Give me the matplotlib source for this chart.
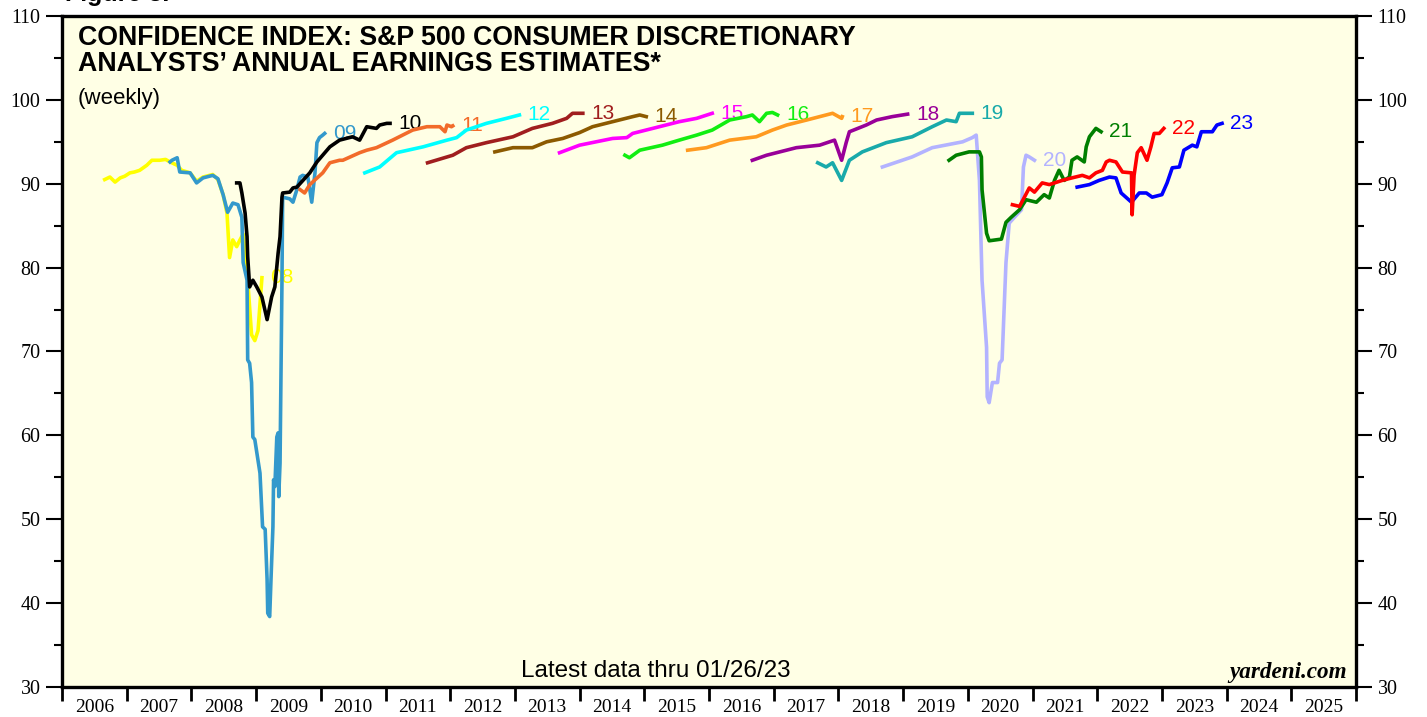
import numpy as np
import matplotlib
matplotlib.use("Agg")
import matplotlib.pyplot as plt
from matplotlib.ticker import MultipleLocator, FixedLocator, NullFormatter, FuncFormatter

# weekly confidence index by estimate year, x in decimal years
d08=[2006.66,2006.74,2006.82,2006.90,2006.97,2007.05,2007.12,2007.20,2007.31,2007.39,2007.51,2007.60,2007.67,2007.78,2007.85,2007.98,2008.08,2008.18,2008.33,2008.41,2008.49,2008.52,2008.55,2008.59,2008.64,2008.70,2008.75,2008.80,2008.87,2008.93,2008.98,2009.03,2009.09]
v08=[90.5,90.8,90.2,90.7,90.9,91.3,91.4,91.6,92.2,92.8,92.8,92.9,92.6,92.2,91.6,91.3,90.3,90.8,91.1,90.5,88.7,87.6,86.5,81.2,83.3,82.5,83.3,84.0,78.5,72.0,71.3,72.5,78.8]
d09=[2007.67,2007.70,2007.78,2007.82,2007.98,2008.08,2008.18,2008.33,2008.41,2008.49,2008.56,2008.64,2008.72,2008.78,2008.80,2008.86,2008.87,2008.90,2008.93,2008.95,2008.98,2009.06,2009.10,2009.14,2009.17,2009.18,2009.21,2009.23,2009.26,2009.27,2009.29,2009.32,2009.34,2009.35,2009.37,2009.40,2009.41,2009.52,2009.57,2009.63,2009.68,2009.72,2009.80,2009.86,2009.91,2009.94,2009.98,2010.03,2010.06]
v09=[92.6,92.8,93.1,91.4,91.3,90.1,90.7,91.0,90.6,88.7,86.6,87.7,87.5,86.0,80.6,78.5,69.0,68.6,66.3,59.8,59.5,55.5,49.1,48.8,42.8,38.8,38.4,42.8,49.1,54.7,53.9,59.8,60.3,52.7,56.7,78.5,88.4,88.2,87.8,89.3,90.8,91.0,90.8,87.8,91.3,94.9,95.5,95.8,96.0]
d10=[2008.70,2008.75,2008.78,2008.83,2008.86,2008.87,2008.90,2008.95,2009.01,2009.09,2009.17,2009.24,2009.29,2009.34,2009.37,2009.40,2009.41,2009.52,2009.57,2009.63,2009.83,2009.94,2010.14,2010.29,2010.49,2010.60,2010.71,2010.86,2010.91,2011.02,2011.07]
v10=[90.1,90.1,88.9,86.5,83.7,81.3,77.7,78.5,77.7,76.5,73.8,76.5,77.7,81.7,83.7,88.4,88.9,89.0,89.5,89.6,91.3,92.6,94.4,95.2,95.6,95.2,96.8,96.6,97.0,97.2,97.2]
d11=[2009.68,2009.75,2009.83,2010.03,2010.14,2010.29,2010.34,2010.60,2010.71,2010.86,2011.11,2011.42,2011.64,2011.84,2011.92,2011.95,2012.02,2012.04]
v11=[89.3,88.9,89.9,91.3,92.5,92.8,92.8,93.7,94.0,94.3,95.2,96.4,96.8,96.8,96.2,97.0,96.8,96.9]
d12=[2010.68,2010.91,2011.17,2011.58,2011.95,2012.10,2012.25,2012.56,2012.87,2013.07]
v12=[91.3,92.0,93.7,94.4,95.2,95.5,96.4,97.2,97.8,98.2]
d13=[2011.65,2012.04,2012.25,2012.56,2012.97,2013.27,2013.58,2013.80,2013.89,2014.05]
v13=[92.5,93.4,94.3,94.9,95.6,96.6,97.2,97.8,98.4,98.4]
d14=[2012.69,2012.97,2013.27,2013.49,2013.74,2014.00,2014.20,2014.51,2014.82,2014.93,2015.03]
v14=[93.8,94.3,94.3,95.0,95.4,96.1,96.8,97.4,98.0,98.2,98.0]
d15=[2013.69,2014.00,2014.51,2014.73,2014.82,2015.13,2015.54,2015.81,2016.05]
v15=[93.7,94.6,95.4,95.5,96.0,96.6,97.4,97.8,98.4]
d16=[2014.70,2014.77,2014.93,2015.28,2015.54,2015.81,2016.05,2016.32,2016.58,2016.67,2016.78,2016.89,2016.98,2017.06]
v16=[93.4,93.1,94.0,94.6,95.2,95.8,96.4,97.6,98.0,98.2,97.4,98.4,98.5,98.2]
d17=[2015.67,2015.96,2016.32,2016.73,2016.98,2017.20,2017.51,2017.81,2017.91,2018.05,2018.06]
v17=[94.0,94.3,95.2,95.6,96.4,97.0,97.6,98.2,98.4,97.8,98.0]
d18=[2016.67,2016.89,2017.35,2017.71,2017.94,2018.05,2018.12,2018.17,2018.43,2018.59,2018.83,2019.07]
v18=[92.8,93.4,94.3,94.6,95.2,92.8,94.9,96.2,97.0,97.6,98.0,98.3]
d19=[2017.68,2017.81,2017.91,2018.05,2018.17,2018.37,2018.74,2019.14,2019.45,2019.67,2019.82,2019.87,2020.07]
v19=[92.5,92.0,92.5,90.4,92.8,93.8,94.9,95.6,96.8,97.6,97.4,98.4,98.4]
d20=[2018.68,2019.14,2019.45,2019.92,2020.07,2020.13,2020.18,2020.22,2020.29,2020.30,2020.33,2020.38,2020.46,2020.49,2020.53,2020.59,2020.64,2020.72,2020.83,2020.86,2020.90,2020.95,2021.03]
v20=[92.0,93.2,94.3,95.0,95.5,95.8,90.4,78.5,70.5,64.6,63.9,66.3,66.3,68.6,69.0,80.6,85.3,86.0,86.9,92.0,93.4,93.2,92.8]
d21=[2019.71,2019.82,2020.02,2020.18,2020.21,2020.22,2020.29,2020.33,2020.52,2020.59,2020.67,2020.80,2020.90,2021.06,2021.18,2021.26,2021.34,2021.41,2021.49,2021.57,2021.61,2021.69,2021.80,2021.83,2021.88,2021.98,2022.06]
v21=[92.8,93.4,93.8,93.8,93.2,89.3,84.1,83.2,83.4,85.4,86.0,86.9,88.1,87.8,88.7,88.3,90.4,91.6,90.4,90.8,92.8,93.2,92.6,94.4,95.6,96.6,96.2]
d22=[2020.69,2020.80,2020.95,2021.03,2021.15,2021.26,2021.46,2021.61,2021.77,2021.88,2021.98,2022.08,2022.14,2022.19,2022.29,2022.39,2022.53,2022.54,2022.57,2022.62,2022.68,2022.77,2022.83,2022.88,2022.96,2023.03]
v22=[87.5,87.3,89.5,89.0,90.1,89.9,90.4,90.7,91.0,90.7,91.3,91.6,92.6,92.8,92.6,91.4,91.3,86.3,91.0,93.7,94.3,92.8,94.4,96.0,96.0,96.6]
d23=[2021.69,2021.88,2022.03,2022.19,2022.29,2022.37,2022.53,2022.65,2022.76,2022.85,2023.00,2023.08,2023.16,2023.27,2023.34,2023.47,2023.54,2023.61,2023.78,2023.85,2023.93]
v23=[89.6,89.9,90.4,90.8,90.7,88.9,87.8,88.9,88.9,88.4,88.7,90.1,91.9,92.0,94.0,94.6,94.4,96.2,96.2,97.0,97.2]

names=['08','09','10','11','12','13','14','15','16','17','18','19','20','21','22','23']
dates=[d08,d09,d10,d11,d12,d13,d14,d15,d16,d17,d18,d19,d20,d21,d22,d23]
vals=[v08,v09,v10,v11,v12,v13,v14,v15,v16,v17,v18,v19,v20,v21,v22,v23]
colors=['#FFFF00','#3399CC','#000000','#F26B2A','#00FFFF','#A01E1E','#8C5A00','#FF00FF',
	'#11EE11','#FF9A1F','#990099','#19AAAA','#B3B3FF','#007F00','#FF0000','#0000FF']
years=list(range(2006,2026))

SANS='Liberation Sans'
plt.rcParams['font.family']='Liberation Serif'

fig=plt.figure(figsize=(14.27,7.17),dpi=100)
ax=fig.add_axes([62/1427,30/717,1294/1427,671/717])
ax.set_facecolor('#FFFFE5')
ax.set_xlim(2006,2026)
ax.set_ylim(30,110)

for i in range(len(names)):
	z=3 if names[i]!='23' else 2.5
	ax.plot(dates[i],vals[i],color=colors[i],lw=2.6,solid_joinstyle='round',zorder=z)
	ax.annotate(names[i],(dates[i][-1],vals[i][-1]),xytext=(6,0),textcoords='offset points',
		color=colors[i],fontsize=15,va='center',ha='left',family=SANS)

for s in ax.spines.values():
	s.set_linewidth(2.4)

ax.yaxis.set_major_locator(MultipleLocator(10))
ax.yaxis.set_minor_locator(MultipleLocator(5))
ax.tick_params(axis='y',which='both',direction='out',left=True,right=True,
	labelleft=True,labelright=True,labelsize=14.4,width=1.5,pad=4)
ax.tick_params(axis='y',which='major',length=11.5)
ax.tick_params(axis='y',which='minor',length=6)

ax.xaxis.set_major_locator(MultipleLocator(1))
ax.xaxis.set_major_formatter(NullFormatter())
ax.xaxis.set_minor_locator(FixedLocator([y+0.5 for y in years]))
ax.xaxis.set_minor_formatter(FuncFormatter(lambda x,p: str(int(x))))
ax.tick_params(axis='x',which='major',direction='out',length=10,width=2)
ax.tick_params(axis='x',which='minor',length=0,labelsize=14,pad=9)

ax.text(0.012,0.987,'CONFIDENCE INDEX: S&P 500 CONSUMER DISCRETIONARY\nANALYSTS’ ANNUAL EARNINGS ESTIMATES*',
	transform=ax.transAxes,family=SANS,fontweight='bold',fontsize=19.3,va='top',ha='left',linespacing=1.0)
ax.text(0.012,0.893,'(weekly)',transform=ax.transAxes,family=SANS,fontsize=16,va='top',ha='left')
ax.text(0.459,0.015,'Latest data thru 01/26/23',transform=ax.transAxes,family=SANS,fontsize=17.5,va='baseline',ha='center')
ax.text(0.993,0.0134,'yardeni.com',transform=ax.transAxes,fontsize=16.7,fontweight='bold',style='italic',va='baseline',ha='right')
fig.text(65/1427,1-1/717,'Figure 8.',family=SANS,fontweight='bold',fontsize=18,va='baseline',ha='left')

fig.savefig('out.png',dpi=100)
